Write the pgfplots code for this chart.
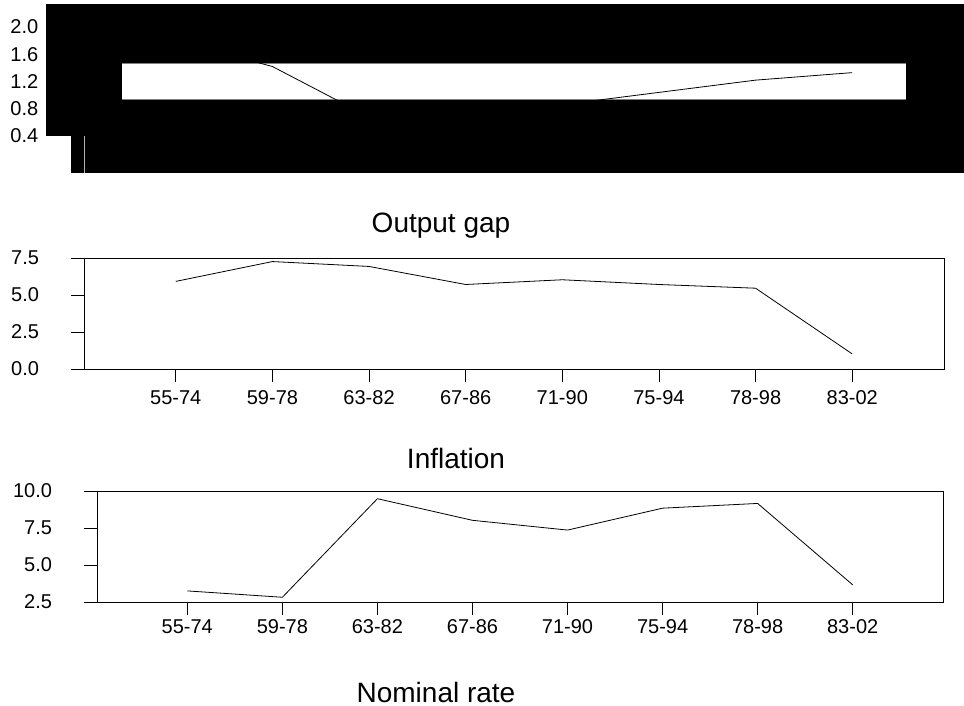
\documentclass[border=0pt]{standalone}
\usepackage{fontspec}
\setmainfont{Liberation Sans}
\usepackage{pgfplots}
\pgfplotsset{compat=1.18}
\newcommand{\tlfont}{\fontsize{15}{18}\selectfont}
\pgfplotsset{
  every tick label/.append style={font=\tlfont},
  panel/.style={
    scale only axis, width=645pt, height=83.25pt,
    xmin=-0.95, xmax=7.95,
    xtick={0,1,2,3,4,5,6,7},
    xticklabels={55-74,59-78,63-82,67-86,71-90,75-94,78-98,83-02},
    tick align=outside, major tick length=9.75pt,
    xtick pos=bottom, ytick pos=left,
    tick style={black, line width=0.6pt},
    axis line style={line width=0.6pt},
    clip=true,
  },
}
\begin{document}
\begin{tikzpicture}[x=0.75pt, y=-0.75pt]
\useasboundingbox (0,0) rectangle (964,706);
% top panel (rendered with black fill, as in the reference)
\fill[black] (46,4) rectangle (964,136);
\fill[black] (71,136) rectangle (964,173);
\fill[white] (122,63) rectangle (906,99);
\draw[gray, line width=0.6pt] (122,63) -- (906,63);
\draw[gray, line width=0.6pt] (122,99) -- (906,99);
\draw[gray!60, line width=0.6pt] (84,136) -- (84,173);

\begin{axis}[panel, at={(63pt,-102pt)}, anchor=south west,
  height=81.75pt, ymin=0.4, ymax=2.0, ytick={0.4,0.8,1.2,1.6,2.0},
  axis line style={draw=none}, tick style={draw=none},
  yticklabel style={font=\tlfont, anchor=east, xshift=-21pt,
      /pgf/number format/fixed, /pgf/number format/fixed zerofill,
      /pgf/number format/precision=1, /pgf/number format/assume math mode=true},
  xticklabels={}]
\addplot[black, line width=0.6pt] coordinates {
(0,1.80) (1,1.42) (2,0.68) (3,0.70) (4,0.86) (5,1.04) (6,1.22) (7,1.33)};
\end{axis}

\node[font=\fontsize{21}{25}\selectfont, anchor=base, inner sep=0pt] at (441,233) {Output gap};

\begin{axis}[panel, at={(63pt,-276.75pt)}, anchor=south west,
  ymin=0, ymax=7.5, ytick={0,2.5,5,7.5},
  yticklabel style={font=\tlfont, anchor=east, xshift=-20.5pt,
      /pgf/number format/fixed, /pgf/number format/fixed zerofill,
      /pgf/number format/precision=1, /pgf/number format/assume math mode=true},
  xticklabel style={font=\tlfont, anchor=base, yshift=-17pt}]
\addplot[black, line width=0.6pt] coordinates {
(0,5.92) (1,7.26) (2,6.93) (3,5.71) (4,6.03) (5,5.71) (6,5.46) (7,1.02)};
\end{axis}

\node[font=\fontsize{21}{25}\selectfont, anchor=base, inner sep=0pt] at (456,468) {Inflation};

\begin{axis}[panel, at={(72.75pt,-451.5pt)}, anchor=south west,
  width=634.5pt, ymin=2.5, ymax=10, ytick={2.5,5,7.5,10},
  yticklabel style={font=\tlfont, anchor=east, xshift=-20.5pt,
      /pgf/number format/fixed, /pgf/number format/fixed zerofill,
      /pgf/number format/precision=1, /pgf/number format/assume math mode=true},
  xticklabel style={font=\tlfont, anchor=base, yshift=-14pt}]
\addplot[black, line width=0.6pt] coordinates {
(0,3.25) (1,2.82) (2,9.48) (3,8.02) (4,7.36) (5,8.84) (6,9.16) (7,3.66)};
\end{axis}

\node[font=\fontsize{21}{25}\selectfont, anchor=base, inner sep=0pt] at (436,702) {Nominal rate};
\end{tikzpicture}
\end{document}
